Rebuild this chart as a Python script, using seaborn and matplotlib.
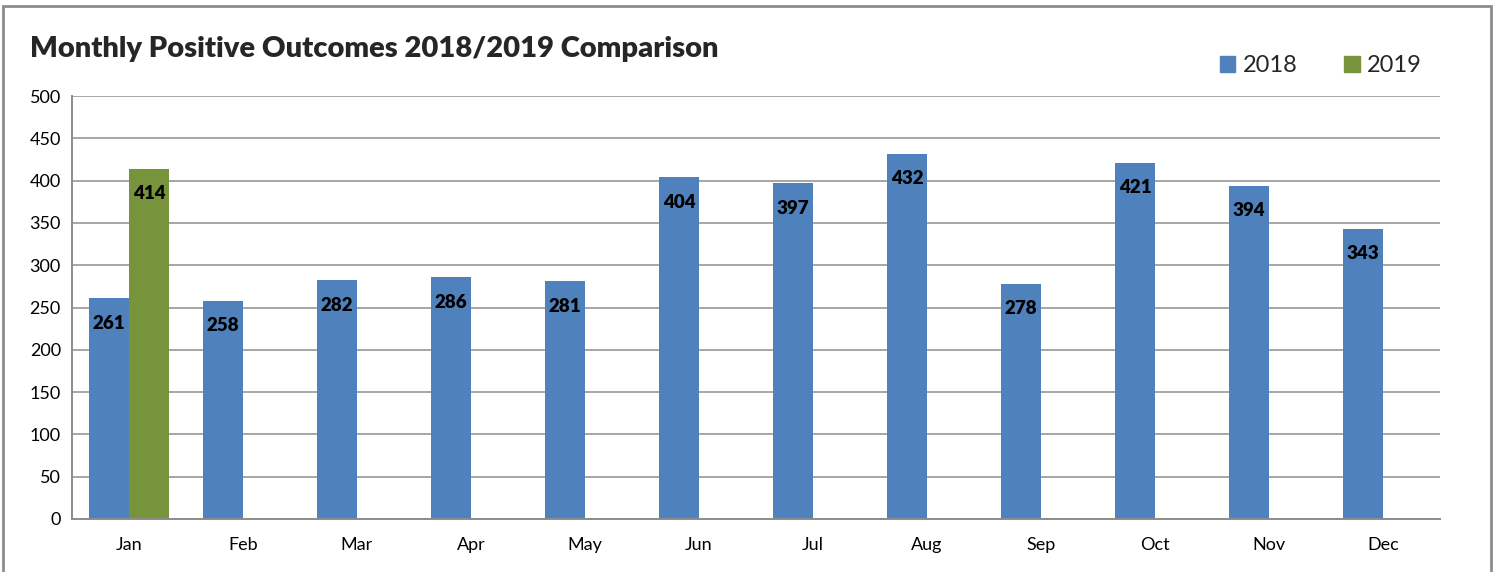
import numpy as np
import pandas as pd
import matplotlib
matplotlib.use("Agg")
import matplotlib.pyplot as plt
import matplotlib.patches as mpatches
import seaborn as sns

# chart data
months = ["Jan", "Feb", "Mar", "Apr", "May", "Jun",
          "Jul", "Aug", "Sep", "Oct", "Nov", "Dec"]
values_2018 = [261, 258, 282, 286, 281, 404, 397, 432, 278, 421, 394, 343]
values_2019 = [414]

rows = []
for m, v in zip(months, values_2018):
    rows.append({"month": m, "year": "2018", "value": v})
for m, v in zip(months, values_2019):
    rows.append({"month": m, "year": "2019", "value": v})
df = pd.DataFrame(rows)

sns.set_style("white")
plt.rcParams['font.family'] = ['Lato', 'DejaVu Sans']

colors = {"2018": "#4F81BD", "2019": "#77933C"}

fig = plt.figure(figsize=(15, 5.72), dpi=100)
ax = fig.add_axes([0.048, 0.0927, 0.912, 0.7393])

sns.barplot(data=df, x="month", y="value", hue="year", order=months,
            hue_order=["2018", "2019"], palette=colors, width=0.7,
            saturation=1, linewidth=0, ax=ax, legend=False)

ax.set_ylim(0, 500)
ax.set_yticks(range(0, 501, 50))
ax.set_xlim(-0.5, 11.5)
ax.yaxis.grid(True, color="#A6A6A6", linewidth=1.4)
ax.set_axisbelow(True)
for s in ["top", "right"]:
    ax.spines[s].set_visible(False)
for s in ["left", "bottom"]:
    ax.spines[s].set_color("#8C8C8C")
    ax.spines[s].set_linewidth(1.4)
ax.tick_params(axis="both", length=0, labelsize=13, colors="black")
ax.tick_params(axis="x", pad=13)
ax.tick_params(axis="y", pad=8)
ax.set_xlabel("")
ax.set_ylabel("")

# value labels inside the bars
for container in ax.containers:
    for bar in container:
        h = bar.get_height()
        if np.isnan(h) or h == 0:
            continue
        ax.annotate(f"{int(h)}", (bar.get_x() + bar.get_width() / 2, h),
                    xytext=(0, -18), textcoords="offset points",
                    ha="center", va="center", fontsize=13.5,
                    fontweight="heavy", color="black")

fig.text(0.02, 0.915, "Monthly Positive Outcomes 2018/2019 Comparison",
         fontsize=21, fontweight="heavy", ha="left", va="center")

handles = [mpatches.Patch(color=colors[y], label=y) for y in ["2018", "2019"]]
fig.legend(handles=handles, loc="center right", bbox_to_anchor=(0.962, 0.885),
           ncol=2, frameon=False, fontsize=17, handlelength=0.65,
           handleheight=0.65, handletextpad=0.3, columnspacing=2.0)

# outer frame of the chart
frame = mpatches.Rectangle((0.002, -0.05), 0.992, 1.04, transform=fig.transFigure,
                           fill=False, edgecolor="#8C8C8C", linewidth=2)
fig.patches.append(frame)

fig.savefig("out.png", dpi=100, facecolor="white")
